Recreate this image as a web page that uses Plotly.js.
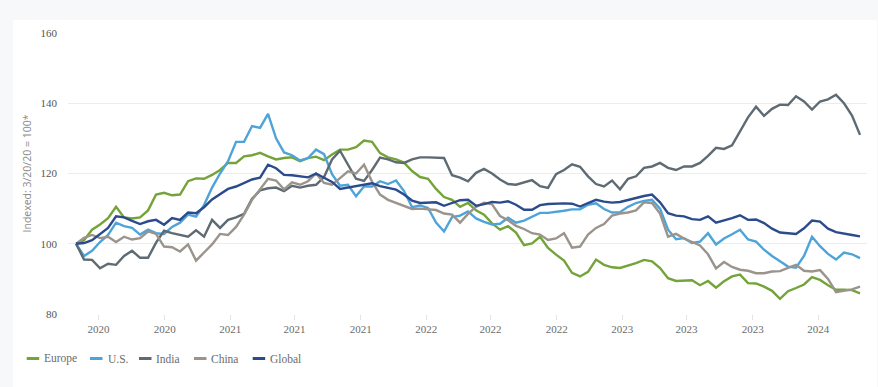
<!DOCTYPE html>
<html>
<head>
<meta charset="utf-8">
<script src="https://cdn.plot.ly/plotly-3.0.1.min.js"></script>
<style>
  html, body { margin: 0; padding: 0; background: #f7f8f9; width: 878px; height: 387px; overflow: hidden; }
  #chart { position: absolute; left: 13px; top: 20px; width: 864px; height: 367px; background: #ffffff; }
</style>
</head>
<body>
<div id="chart"></div>
<script>
// ---- Data (indexed: 3/20/20 = 100), sampled roughly every two weeks ----
const startDate = '2020-03-20';
const endDate = '2024-03-19';

const europe = [100, 101, 104, 105.5, 107.3, 110.5, 107.5, 107.2, 107.5, 109.5, 114, 114.5, 113.8, 114, 117.8, 118.6, 118.5, 119.6, 121, 123, 123, 124.9, 125.2, 125.9, 124.9,
  124, 124.4, 124.6, 123.5, 124.4, 124.8, 123.8, 125.4, 126.8, 126.8, 127.5, 129.4, 129, 125.8, 124.6, 124, 123.1, 120.7, 119, 118.5, 115.6, 113.3, 112.5, 110.5, 111.6,
  109.5, 108.3, 105.8, 104, 105, 103.2, 99.6, 100.1, 102, 98.8, 96.9, 95.2, 91.7, 90.7, 92, 95.5, 94, 93.3, 93.1, 93.7, 94.5, 95.4, 95, 93.1, 90.2,
  89.4, 89.5, 89.6, 88.2, 89.4, 87.5, 89.3, 90.7, 91.2, 88.8, 88.7, 87.8, 86.6, 84.3, 86.5, 87.4, 88.4, 90.5, 89.7, 88.2, 86.9, 86.9, 86.8, 85.9];

const us = [100, 96.5, 98, 100.5, 102.5, 106, 105, 104.5, 102.6, 104, 103, 102.8, 104.8, 106, 108.3, 107.7, 111, 116, 120, 123.5, 129, 129, 133.5, 133, 137,
  130, 126, 125.2, 123.7, 124.4, 126.8, 125.5, 119.8, 116.5, 116.8, 113.5, 116.3, 116.3, 117.8, 117, 118, 115, 110.4, 110.9, 110.2, 106, 103.5, 107.6, 108, 109.2,
  107.2, 106.2, 105.5, 105.7, 107.4, 106, 106.6, 107.6, 108.8, 108.8, 109, 109.4, 109.8, 109.8, 111.1, 111.5, 109.9, 108.9, 109, 110.5, 111.6, 112.2, 112.5, 110, 104,
  101.3, 101.6, 100.2, 100.6, 103, 99.8, 101.5, 102.7, 104, 101.2, 100.6, 98.3, 96.5, 95, 93.5, 93.2, 96.5, 102, 99.3, 97.1, 95.5, 97.5, 97, 95.9];

const india = [100, 95.5, 95.4, 93, 94.3, 94, 96.5, 98, 96, 96, 100.3, 103.7, 103, 102.5, 102, 103.8, 102, 106.8, 104.5, 106.8, 107.5, 108.5, 112.8, 115.2, 115.8,
  116, 115, 116.5, 116, 116.5, 116.8, 119, 124, 126.5, 122.5, 118.5, 117.9, 121, 124.5, 124, 123.2, 123, 124, 124.6, 124.6, 124.4, 124.4, 119.5, 118.8, 117.8,
  120.2, 121.3, 120, 118.3, 117, 116.8, 117.4, 118.1, 116.4, 115.9, 119.8, 121, 122.6, 121.9, 119.2, 117, 116.3, 118, 115.5, 118.5, 119.2, 121.6, 122, 123, 121.6,
  121, 122, 122, 123, 125, 127.3, 127, 128, 132, 136, 139, 136.4, 138.4, 139.6, 139.5, 142, 140.5, 138.2, 140.5, 141.1, 142.4, 140, 136.5, 131];

const china = [100, 101.7, 102.5, 101.6, 102, 100.5, 102, 101.2, 101.6, 103.5, 102.8, 99.2, 99, 97.8, 99.8, 95.2, 97.5, 99.8, 102.8, 102.5, 104.8, 108.3, 112.5, 115.4, 118.5,
  118, 115.5, 117.5, 116.8, 117.8, 120, 117.3, 116.8, 118.7, 120.6, 120, 122.5, 117.7, 114, 112.5, 111.6, 110.8, 109.9, 110, 109.7, 109.6, 108.6, 108.3, 106, 108.5,
  110.5, 111.7, 111.2, 107.9, 106.7, 105.1, 104.2, 103, 102.6, 101.1, 101.5, 103, 98.9, 99.2, 102.6, 104.5, 105.6, 108, 108.6, 108.9, 109.5, 111.8, 111.6, 108.6, 102,
  102.8, 101.5, 100.6, 99.5, 97, 93, 94.8, 93.4, 92.6, 92.3, 91.6, 91.6, 92.1, 92.2, 93.1, 94, 92.3, 92.1, 92.5, 90, 86.2, 86.5, 87, 87.8];

const global = [100, 100.2, 101, 102.8, 104.5, 107.8, 107.5, 106.5, 105.6, 106.4, 106.8, 105.4, 107.3, 106.8, 108.9, 108.7, 110.4, 112.6, 114, 115.6, 116.3, 117.3, 118.3, 118.8, 122.5,
  121.5, 119.6, 119.5, 119.2, 118.9, 120, 118.7, 117.6, 115.6, 116, 116.3, 116.8, 117.2, 116.4, 115.9, 115.4, 114, 112.3, 111.6, 111.6, 111.8, 110.8, 111.6, 112.4, 112.5,
  110.8, 111.3, 111.9, 111.7, 112.1, 111.1, 109.7, 109.7, 111, 111.3, 111.5, 111.5, 111.4, 110.6, 111.6, 112.5, 112, 111.7, 111.9, 112.5, 113, 113.6, 114, 111.8, 108.7,
  108, 107.8, 107, 106.8, 107.8, 106, 106.6, 107.3, 108.1, 106.8, 106.9, 105.9, 104.3, 103.2, 103, 102.8, 104.4, 106.6, 106.3, 104.3, 103.3, 103, 102.5, 102.1];

const seriesNames = ['Europe', 'U.S.', 'India', 'China', 'Global'];
const seriesColors = ['#74a33a', '#4ea4d9', '#5e6b73', '#9b948d', '#2b4b8c'];
const seriesValues = [europe, us, india, china, global];

const tickDates = ['2020-05-01', '2020-09-01', '2021-01-01', '2021-05-01', '2021-09-01', '2022-01-01',
                   '2022-05-01', '2022-09-01', '2023-01-01', '2023-05-01', '2023-09-01', '2024-01-01'];
const tickLabels = ['2020', '2020', '2021', '2021', '2021', '2022', '2022', '2022', '2023', '2023', '2023', '2024'];
const yTicks = [80, 100, 120, 140, 160];

// ---- sample dates (evenly spaced between start and end) ----
const t0 = Date.parse(startDate + 'T00:00:00Z');
const t1 = Date.parse(endDate + 'T00:00:00Z');
const n = europe.length;
const dates = [];
for (let i = 0; i < n; i++) {
  const d = new Date(t0 + (t1 - t0) * i / (n - 1));
  dates.push(d.toISOString().slice(0, 16).replace('T', ' '));
}

const traces = seriesValues.map((vals, k) => ({
  type: 'scatter',
  mode: 'lines',
  name: seriesNames[k],
  x: dates,
  y: vals,
  line: { color: seriesColors[k], width: 2.4 },
  showlegend: false,
  hoverinfo: 'x+y+name'
}));

// ---- custom legend (short swatches like the reference) ----
const legendX = [26.7, 90, 139, 194, 252.7];   // page px of swatch start
const legendTextX = [42, 106, 154, 209, 268];
const plotL = 68, plotW = 799, plotB = 314, plotH = 281;
const legendY = (plotB - 358.5) / plotH;
const shapes = [];
const annotations = [];
seriesNames.forEach((nm, k) => {
  shapes.push({
    type: 'line', xref: 'paper', yref: 'paper',
    x0: (legendX[k] - plotL) / plotW, x1: (legendX[k] + 12.5 - plotL) / plotW,
    y0: legendY, y1: legendY,
    line: { color: seriesColors[k], width: 3 }
  });
  annotations.push({
    xref: 'paper', yref: 'paper',
    x: (legendTextX[k] - plotL) / plotW, y: legendY,
    xanchor: 'left', yanchor: 'middle',
    text: nm, showarrow: false,
    font: { family: 'Liberation Serif, DejaVu Serif, serif', size: 11.5, color: '#6b6b6b' }
  });
});

const layout = {
  width: 864, height: 367,
  margin: { l: 55, r: 10, t: 13, b: 73 },
  paper_bgcolor: '#ffffff',
  plot_bgcolor: '#ffffff',
  showlegend: false,
  xaxis: {
    type: 'date',
    range: ['2020-03-05', '2024-04-01'],
    tickvals: tickDates,
    ticktext: tickLabels,
    showgrid: false,
    zeroline: false,
    showline: false,
    ticks: 'outside',
    ticklen: 5,
    tickcolor: '#e3e3e3',
    tickfont: { family: 'Liberation Serif, DejaVu Serif, serif', size: 11, color: '#6b6b6b' }
  },
  yaxis: {
    range: [80, 160],
    tickvals: yTicks,
    showgrid: true,
    gridcolor: '#ececec',
    gridwidth: 1,
    zeroline: false,
    showline: false,
    ticks: '',
    ticklabelstandoff: 10,
    tickfont: { family: 'Liberation Serif, DejaVu Serif, serif', size: 11, color: '#555555' },
    title: {
      text: 'Indexed: 3/20/20 = 100*',
      standoff: 6,
      font: { family: 'Open Sans, Roboto, sans-serif', size: 10.5, color: '#8a8a8a' }
    }
  },
  shapes: shapes,
  annotations: annotations
};

Plotly.newPlot('chart', traces, layout, { displayModeBar: false, staticPlot: true });
</script>
</body>
</html>
